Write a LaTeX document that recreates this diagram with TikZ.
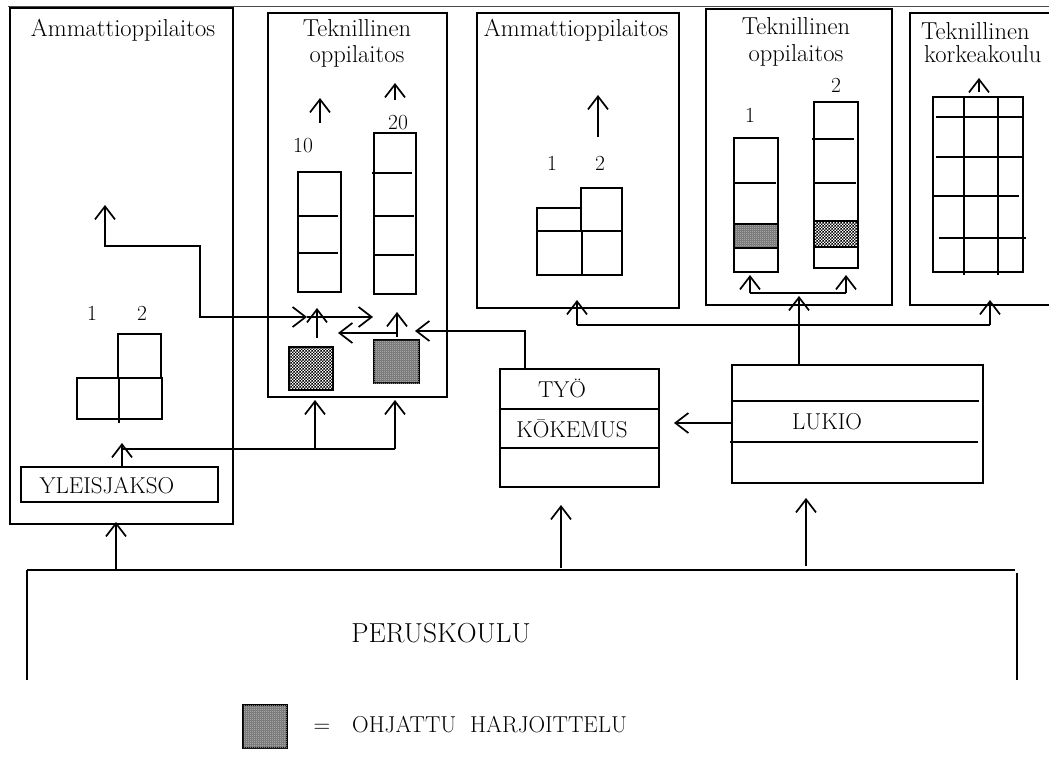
\documentclass[tikz,border=0pt]{standalone}
\usetikzlibrary{arrows.meta,patterns}
\pgfdeclarepatternformonly{chk}{\pgfpointorigin}{\pgfqpoint{3.4pt}{3.4pt}}{\pgfqpoint{3.4pt}{3.4pt}}{%
  \pgfpathrectangle{\pgfpointorigin}{\pgfqpoint{1.7pt}{1.7pt}}%
  \pgfpathrectangle{\pgfqpoint{1.7pt}{1.7pt}}{\pgfqpoint{1.7pt}{1.7pt}}%
  \pgfusepath{fill}}
\pgfdeclarepatternformonly{chkf}{\pgfpointorigin}{\pgfqpoint{2pt}{2pt}}{\pgfqpoint{2pt}{2pt}}{%
  \pgfpathrectangle{\pgfpointorigin}{\pgfqpoint{1pt}{1pt}}%
  \pgfpathrectangle{\pgfqpoint{1pt}{1pt}}{\pgfqpoint{1pt}{1pt}}%
  \pgfusepath{fill}}
\begin{document}
\begin{tikzpicture}[x=1pt,y=-1pt,
  box/.style={draw, line width=1.9pt, inner sep=0pt, outer sep=0pt, anchor=north west},
  thin box/.style={box, line width=1.7pt},
  txt/.style={inner sep=0pt, anchor=base, font=\fontsize{24.5}{28}\selectfont},
  captxt/.style={inner sep=0pt, anchor=base, font=\fontsize{23}{27}\selectfont},
  num/.style={inner sep=0pt, anchor=base, font=\fontsize{21.5}{25}\selectfont},
  ln/.style={line width=1.7pt},
  thk/.style={line width=2.8pt},
  arr/.style={line width=1.7pt, -{Straight Barb[length=13pt,width=20pt]}},
  darr/.style={line width=1.7pt, {Straight Barb[length=13pt,width=20pt]}-{Straight Barb[length=13pt,width=20pt]}},
  grayfill/.style={fill=black!55, postaction={pattern=chkf, pattern color=black!25}},
  chkfill/.style={fill=white, postaction={pattern=chk, pattern color=black}}
]
\useasboundingbox (0,0) rectangle (1049,762);
\clip (0,0) rectangle (1049,762);
\fill[white] (0,0) rectangle (1049,762);

% top rule
\draw[black!70, line width=0.7pt] (8,6) -- (1049,6);

% ---------- left Ammattioppilaitos ----------
\node[box, minimum width=223pt, minimum height=516pt] (amm1) at (10,8) {};
\node[txt] (amm1t) at (123,37) {Ammattioppilaitos};
\node[thin box, minimum width=197pt, minimum height=35pt] (yleis) at (21,467) {};
\node[captxt] (yleist) at (107,493) {YLEISJAKSO};
\node[num] (n1a) at (92,320) {1};
\node[num] (n2a) at (142,320) {2};
\node[thin box, minimum width=43pt, minimum height=44pt] (bl1) at (118,334) {};
\node[thin box, minimum width=85pt, minimum height=41pt] (bl2) at (77,378) {};
\draw[ln] (119,378) -- (119,423);
\draw[thk] (118,378) -- (162,378);

% ---------- Teknillinen oppilaitos (left) ----------
\node[box, minimum width=179pt, minimum height=384pt] (tek1) at (268,13) {};
\node[txt] (tek1t) at (357,37) {Teknillinen};
\node[txt] (tek1u) at (357,63) {oppilaitos};
\node[num] (n10) at (303,153) {10};
\node[num] (n20) at (398,130) {20};
\node[thin box, minimum width=43pt, minimum height=120pt] (t1c1) at (298,172) {};
\draw[ln] (298,216) -- (338,216);
\draw[ln] (298,253) -- (338,253);
\node[thin box, minimum width=42pt, minimum height=161pt] (t1c2) at (374,133) {};
\draw[ln] (372,173) -- (412,173);
\draw[ln] (374,216) -- (414,216);
\draw[ln] (374,255) -- (414,255);
\coordinate (t1u1) at (320,123); \coordinate (t1u1e) at (320,98);
\coordinate (t1u2) at (395,100); \coordinate (t1u2e) at (395,83);
\draw[arr] (t1u1) -- (t1u1e);
\draw[arr] (t1u2) -- (t1u2e);
\node[box, chkfill, line width=1.5pt, minimum width=44pt, minimum height=43pt] (sq1) at (289,347) {};
\node[box, grayfill, line width=1.5pt, minimum width=45pt, minimum height=43pt] (sq2) at (374,340) {};
\coordinate (sq1t) at (317,338);
\coordinate (sq2t) at (397,337);
\draw[arr] (sq1t) -- (317,308);
\draw[arr] (sq2t) -- (397,312);
\coordinate (s2l) at (397,333);
\coordinate (s1r) at (338,333);
\draw[arr] (s2l) -- (s1r);

% arrow from left Ammatti to Teknillinen
\coordinate (aup) at (105,205);
\coordinate (tin1) at (307,317);
\coordinate (tin2) at (373,317);
\draw[darr] (aup) -- (105,246) -- (200,246) -- (200,317) -- (tin1);
\draw[arr] (tin1) -- (tin2);

% ---------- middle Ammattioppilaitos ----------
\node[box, minimum width=202pt, minimum height=295pt] (amm2) at (477,13) {};
\node[txt] (amm2t) at (576,37) {Ammattioppilaitos};
\draw[arr] (598,137) -- (598,95);
\node[num] (n1b) at (552,171) {1};
\node[num] (n2b) at (600,171) {2};
\node[thin box, minimum width=44pt, minimum height=23pt] (a2b1) at (537,208) {};
\node[thin box, minimum width=41pt, minimum height=43pt] (a2b2) at (581,188) {};
\node[thin box, minimum width=85pt, minimum height=44pt] (a2b3) at (537,231) {};
\draw[ln] (582,231) -- (582,276);
\draw[thk] (537,231) -- (622,231);

% ---------- Teknillinen oppilaitos (right) ----------
\node[box, minimum width=186pt, minimum height=296pt] (tek2) at (706,9) {};
\node[txt] (tek2t) at (796,35) {Teknillinen};
\node[txt] (tek2u) at (796,62) {oppilaitos};
\node[num] (n1c) at (750,123) {1};
\node[num] (n2c) at (836,93) {2};
\fill[black!55, postaction={pattern=chkf, pattern color=black!25}] (734,224) rectangle (778,248);
\fill[white, postaction={pattern=chk, pattern color=black}] (814,221) rectangle (858,247);
\node[thin box, minimum width=44pt, minimum height=134pt] (t2c1) at (734,138) {};
\draw[ln] (734,183) -- (776,183);
\draw[thk] (734,224) -- (778,224);
\draw[thk] (734,248) -- (778,248);
\node[thin box, minimum width=44pt, minimum height=166pt] (t2c2) at (814,102) {};
\draw[ln] (812,139) -- (854,139);
\draw[ln] (814,183) -- (856,183);
\draw[thk] (814,221) -- (858,221);
\draw[thk] (814,247) -- (858,247);
\coordinate (t2l) at (750,293);
\coordinate (t2r) at (846,293);
\draw[ln] (t2l) -- (t2r);
\draw[arr] (t2l) -- (750,275);
\draw[arr] (t2r) -- (846,275);

% ---------- Teknillinen korkeakoulu ----------
\node[box, minimum width=170pt, minimum height=292pt] (kk) at (910,13) {};
\node[txt, anchor=base west] (kkt) at (921,40) {Teknillinen};
\node[txt, anchor=base west] (kku) at (924,63) {korkeakoulu};
\draw[arr] (979,92) -- (979,78);
\node[thin box, minimum width=90pt, minimum height=175pt] (kkg) at (933,97) {};
\draw[ln] (964,97) -- (964,275);
\draw[ln] (998,97) -- (998,275);
\draw[ln] (936,117) -- (1023,117);
\draw[ln] (936,157) -- (1023,157);
\draw[ln] (933,196) -- (1019,196);
\draw[ln] (939,238) -- (1026,238);

% ---------- TYO KOKEMUS ----------
\node[box, minimum width=159pt, minimum height=118pt] (tyo) at (500,369) {};
\draw[ln] (500,409) -- (659,409);
\draw[ln] (500,448) -- (659,448);
\node[captxt] (tyot) at (562,397) {TYÖ};
\node[captxt] (kok) at (572,437) {KŌKEMUS};
\coordinate (tyotop) at (525,369);
\draw[arr] (tyotop) -- (525,331) -- (415,331);

% ---------- LUKIO ----------
\node[box, minimum width=251pt, minimum height=118pt] (lukio) at (732,365) {};
\draw[ln] (732,401) -- (979,401);
\draw[ln] (730,442) -- (978,442);
\node[captxt] (lukiot) at (827,429) {LUKIO};
\coordinate (lkl) at (732,423);
\draw[arr] (lkl) -- (674,423);
\coordinate (lk) at (799,365);
\draw[arr] (lk) -- (799,296);
\draw[ln] (577,325) -- (990,325);
\draw[arr] (577,325) -- (577,300);
\draw[arr] (990,325) -- (990,300);

% ---------- links under Teknillinen (left) ----------
\draw[ln] (395,449) -- (122,449);
\draw[arr] (395,449) -- (395,400);
\draw[arr] (315,449) -- (315,400);
\coordinate (yltop) at (122,467);
\draw[arr] (yltop) -- (122,443);

% ---------- PERUSKOULU ----------
\draw[line width=2.6pt] (27,570) -- (1015,570);
\draw[line width=1.4pt] (27,570) -- (27,680);
\draw[line width=1.4pt] (1017,573) -- (1017,680);
\node[inner sep=0pt, anchor=base, font=\fontsize{27.5}{31}\selectfont] (perus) at (441,642) {PERUSKOULU};
\draw[arr] (116,570) -- (116,522);
\draw[arr] (561,568) -- (561,505);
\draw[arr] (806,566) -- (806,498);

% ---------- legend ----------
\node[box, grayfill, line width=1.5pt, minimum width=44pt, minimum height=43pt] (legsq) at (243,705) {};
\node[captxt] (eq) at (322,732) {=};
\node[captxt, anchor=base west] (legt) at (352,732) {OHJATTU\ \ HARJOITTELU};
\end{tikzpicture}
\end{document}
